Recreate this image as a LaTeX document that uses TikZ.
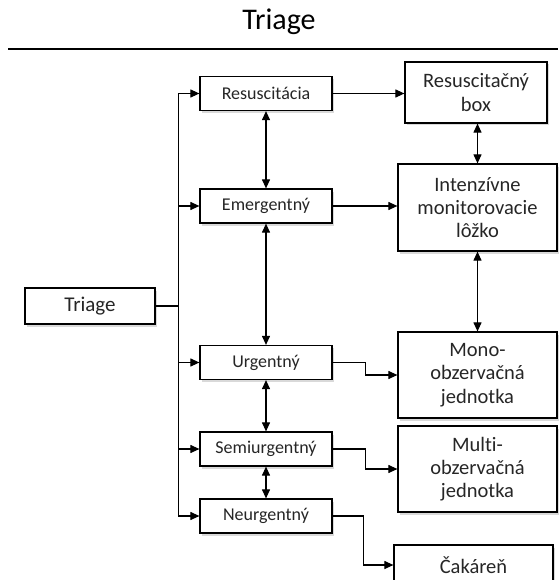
\documentclass[tikz,border=0pt]{standalone}
\usepackage{fontspec}
\setmainfont{Carlito}[Ligatures=NoCommon]
\usepackage{tikz}
\usetikzlibrary{arrows.meta,positioning,shadows,calc}

\tikzset{
  box/.style={draw, line width=1.2pt, fill=white, align=center, inner sep=0pt, text=black!85,
    drop shadow={shadow xshift=2pt, shadow yshift=-2.5pt, opacity=.25, fill=black!60}},
  lvl/.style={box, minimum width=132pt, minimum height=34pt, font=\fontsize{18}{21}\selectfont},
  dest/.style={box, minimum width=159pt, font=\fontsize{20.5}{23.3}\selectfont},
}

\begin{document}
\begin{tikzpicture}[x=1pt, y=-1pt, ->, >={Triangle[length=9pt,width=8pt]}, line width=1.1pt]
      \useasboundingbox (0,0) rectangle (558,580);
      \node[font=\fontsize{30}{34}\selectfont] (title) at (279,22) {Triage};
      \draw[-, line width=1.6pt] (8,49) -- (558,49);

      \node[box, minimum width=130pt, minimum height=36pt, font=\fontsize{21}{24}\selectfont] (tri) at (90,306) {Triage};

      \node[lvl] (resus) at (266,93.5) {Resuscitácia};
      \node[lvl] (emerg) at (266,206) {Emergentný};
      \node[lvl] (urg) at (266,362.5) {Urgentný};
      \node[lvl] (semi) at (266,449) {Semiurgentný};
      \node[lvl] (neurg) at (266,516) {Neurgentný};

      \node[dest, minimum width=142pt, minimum height=61pt] (rbox) at (476,92.5) {Resuscitačný\\box};
      \node[dest, minimum height=87pt] (icu) at (477.5,207.5) {Intenzívne\\monitorovacie\\lôžko};
      \node[dest, minimum height=86pt] (mono) at (477.5,375) {Mono-\\obzervačná\\jednotka};
      \node[dest, minimum height=86pt] (multi) at (477.5,469) {Multi-\\obzervačná\\jednotka};
      \node[box, minimum width=159pt, minimum height=40pt, font=\fontsize{20.5}{23.3}\selectfont] (wait) at (473.5,565) {Čakáreň};

      \foreach \n in {resus,emerg,urg,semi,neurg}
        \draw (tri.east) -- ++(23,0) |- (\n.west);

      \draw[<->] (resus) -- (emerg);
      \draw[<->] (emerg) -- (urg);
      \draw[<->] (urg) -- (semi);
      \draw[<->] (semi) -- (neurg);

      \draw (resus.east) -- (resus.east -| rbox.west);
      \draw (emerg.east) -- (emerg.east -| icu.west);
      \draw[<->] (rbox.south -| icu.north) -- (icu.north);
      \draw[<->] (icu) -- (mono);
      \draw (urg.east) -- ++(33,0) |- (mono.west);
      \draw (semi.east) -- ++(33,0) |- (multi.west);
      \draw (neurg.east) -- ++(31,0) |- (wait.west);
\end{tikzpicture}
\end{document}
